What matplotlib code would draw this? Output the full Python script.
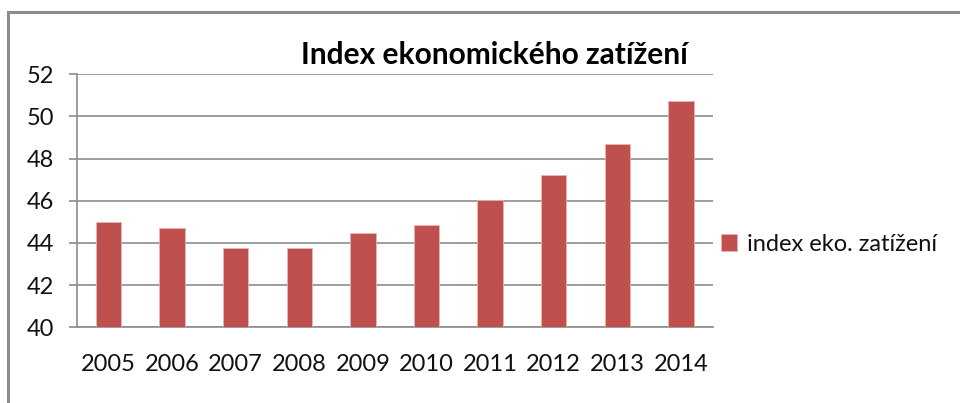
import matplotlib
matplotlib.use("Agg")
import matplotlib.pyplot as plt
from matplotlib.patches import Rectangle

years = ["2005", "2006", "2007", "2008", "2009", "2010", "2011", "2012", "2013", "2014"]
values = [45.0, 44.7, 43.75, 43.75, 44.45, 44.85, 46.05, 47.2, 48.7, 50.75]
series_name = "index eko. zatížení"
title = "Index ekonomického zatížení"
yticks = [40, 42, 44, 46, 48, 50, 52]

plt.rcParams['font.family'] = ['Lato', 'DejaVu Sans']

W, H = 960, 403
fig = plt.figure(figsize=(W / 100, H / 100), dpi=100)
fig.patch.set_facecolor("white")

# outer chart border
fig.add_artist(Rectangle((8 / W, -0.1), 1.2, 1 - 12 / H + 0.1, transform=fig.transFigure,
                         fill=False, edgecolor="#8c8c8c", linewidth=2.2))

ax = fig.add_axes([76.7 / W, 1 - 327.3 / H, (712.7 - 76.7) / W, (327.3 - 74.3) / H])
x = list(range(len(years)))
bars = ax.bar(x, values, width=0.4, bottom=0, color="#C0504D", edgecolor="#e6b5b4",
              linewidth=0.6, label=series_name, zorder=3)
ax.set_xlim(-0.5, len(years) - 0.5)
ax.set_ylim(40, 52)
ax.set_yticks(yticks)
ax.set_yticklabels([str(t) for t in yticks], fontsize=17, color="#111111")
ax.set_xticks(x)
ax.set_xticklabels(years, fontsize=17, color="#111111")
ax.tick_params(axis="x", length=0, pad=19)
ax.tick_params(axis="y", length=6, width=1.2, color="#8c8c8c", pad=10, direction="out")
ax.grid(axis="y", color="#8c8c8c", linewidth=1.2, zorder=0)
for s in ["top", "right"]:
    ax.spines[s].set_visible(False)
for s in ["left", "bottom"]:
    ax.spines[s].set_color("#8c8c8c")
    ax.spines[s].set_linewidth(1.2)

fig.text(494 / W, 1 - 55 / H, title, ha="center", va="center", fontsize=21.5,
         fontweight="bold", color="black")

leg = fig.legend(handles=[bars], labels=[series_name], loc="center left",
                 bbox_to_anchor=(709 / W, 1 - 244 / H), frameon=False,
                 fontsize=17, handlelength=0.7, handleheight=0.7,
                 handletextpad=0.4, borderpad=0)
for t in leg.get_texts():
    t.set_color("#111111")

fig.savefig("out.png", dpi=100)
